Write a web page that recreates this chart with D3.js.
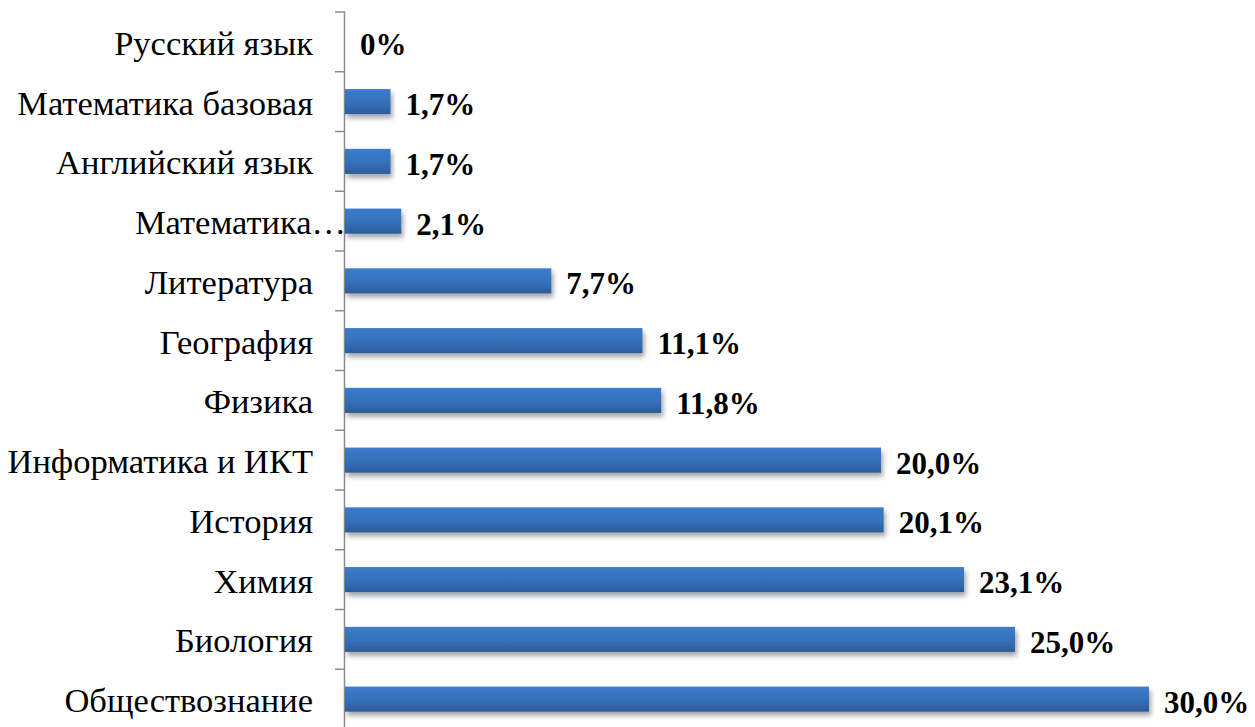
<!DOCTYPE html>
<html><head><meta charset="utf-8">
<script src="https://cdn.jsdelivr.net/npm/d3@7"></script>
<style>body{margin:0;background:#fff}svg{display:block}</style>
</head><body>
<script>
const categories = ["Русский язык","Математика базовая","Английский язык","Математика профильная","Литература","География","Физика","Информатика и ИКТ","История","Химия","Биология","Обществознание"];
const values = [0,1.7,1.7,2.1,7.7,11.1,11.8,20.0,20.1,23.1,25.0,30.0];
const valueLabels = ["0%","1,7%","1,7%","2,1%","7,7%","11,1%","11,8%","20,0%","20,1%","23,1%","25,0%","30,0%"];

const FONT="Liberation Serif";
const W=1255,H=727;
const svg=d3.select("body").append("svg").attr("width",W).attr("height",H);
const defs=svg.append("defs");
const g1=defs.append("linearGradient").attr("id","bg").attr("x1",0).attr("y1",0).attr("x2",0).attr("y2",1);
g1.append("stop").attr("offset","0%").attr("stop-color","#3b7ccc");
g1.append("stop").attr("offset","55%").attr("stop-color","#3670ba");
g1.append("stop").attr("offset","100%").attr("stop-color","#2c5c9a");
const f=defs.append("filter").attr("id","sh").attr("x","-5%").attr("y","-20%").attr("width","115%").attr("height","170%");
f.append("feGaussianBlur").attr("in","SourceAlpha").attr("stdDeviation",2.5);
f.append("feOffset").attr("dx",2).attr("dy",4).attr("result","b");
f.append("feComponentTransfer").append("feFuncA").attr("type","linear").attr("slope",0.35);
const m=f.append("feMerge");m.append("feMergeNode");m.append("feMergeNode").attr("in","SourceGraphic");

const x0=345;
const x=d3.scaleLinear().domain([0,30]).range([x0,x0+804]);
const y=d3.scaleBand().domain(categories).range([12,12+12*59.75]).paddingInner(0.58).paddingOuter(0.29);
const yb=d3.scaleBand().domain(categories).range([12,12+12*59.75]);

const ax=svg.append("g");
ax.append("line").attr("x1",x0-0.5).attr("x2",x0-0.5).attr("y1",yb.range()[0]).attr("y2",H+5).attr("stroke","#8c8c8c").attr("stroke-width",1.5);
const tickYs=categories.map(c=>yb(c)).concat([yb.range()[1]]);
ax.selectAll("line.t").data(tickYs).join("line").attr("class","t")
 .attr("x1",x0-10).attr("x2",x0).attr("y1",d=>d).attr("y2",d=>d).attr("stroke","#8c8c8c").attr("stroke-width",1.5);

svg.append("g").selectAll("text").data(categories).join("text")
 .attr("x",d=>d.length>20?x0+1:313)
 .attr("y",d=>yb(d)+yb.bandwidth()/2+13)
 .attr("text-anchor","end")
 .style("font-family",FONT).style("font-size","34.5px").attr("fill","#000")
 .text(d=>d.length>20?d.split(" ")[0]+"…":d);

svg.append("g").selectAll("rect").data(categories).join("rect")
 .attr("x",x0).attr("y",d=>y(d)).attr("height",y.bandwidth())
 .attr("width",(d,i)=>x(values[i])-x0)
 .attr("fill","url(#bg)").attr("filter",(d,i)=>values[i]>0?"url(#sh)":null);

svg.append("g").selectAll("text").data(categories).join("text")
 .attr("x",(d,i)=>x(values[i])+15)
 .attr("y",d=>yb(d)+yb.bandwidth()/2+13.5)
 .style("font-family",FONT).style("font-weight","bold").style("font-size","31px").attr("fill","#000")
 .text((d,i)=>valueLabels[i]);
</script>
</body></html>
